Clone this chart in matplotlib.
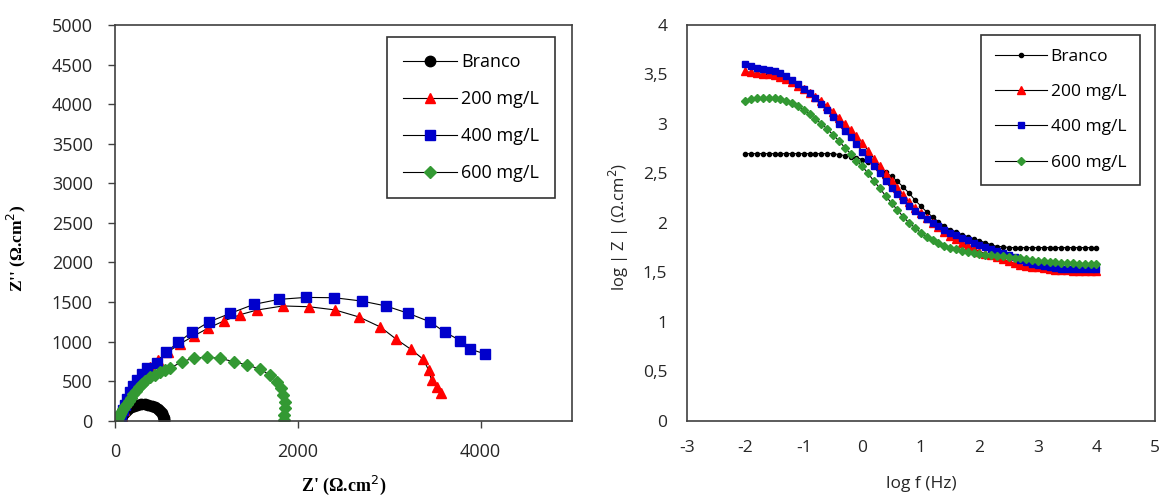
import matplotlib.pyplot as plt

plt.rcParams['font.family'] = ['Open Sans', 'DejaVu Sans']
plt.rcParams['axes.unicode_minus'] = False

# ---- Nyquist data (Z' , Z'') ----
branco_zr = [60, 68, 80, 95, 115, 140, 170, 205, 245, 285, 325, 365, 405, 440, 470, 495, 515, 528, 536, 540, 540]
branco_zi = [0, 30, 62, 95, 125, 152, 175, 192, 203, 208, 207, 200, 187, 168, 146, 120, 92, 64, 38, 15, 0]

c200_zr = [60, 75, 95, 120, 150, 190, 240, 300, 380, 470, 580, 710, 860, 1020, 1190, 1370, 1553, 1837,
           2122, 2406, 2671, 2902, 3077, 3240, 3374, 3431, 3463, 3524, 3565]
c200_zi = [0, 60, 140, 230, 320, 410, 500, 590, 680, 770, 870, 970, 1070, 1170, 1260, 1340, 1398, 1450,
           1440, 1400, 1310, 1185, 1030, 900, 775, 640, 515, 430, 345]

c400_zr = [60, 70, 85, 105, 130, 160, 195, 240, 290, 350, 455, 557, 691, 837, 1033, 1260, 1520, 1793,
           2089, 2398, 2699, 2967, 3211, 3443, 3614, 3780, 3882, 4053]
c400_zi = [0, 60, 130, 200, 280, 360, 440, 520, 590, 660, 733, 863, 990, 1116, 1251, 1356, 1470, 1533,
           1558, 1554, 1512, 1449, 1356, 1251, 1116, 1011, 906, 842]

c600_zr = [20, 30, 42, 55, 70, 90, 110, 128, 150, 175, 201, 230, 260, 293, 330, 385, 440, 495, 550, 604,
           733, 861, 1007, 1147, 1300, 1447, 1585, 1695, 1768, 1817, 1841, 1858, 1860, 1852, 1845]
c600_zi = [0, 30, 60, 84, 115, 150, 185, 211, 245, 285, 337, 380, 420, 463, 505, 547, 580, 610, 640, 665,
           745, 792, 800, 790, 745, 703, 653, 577, 493, 409, 324, 240, 156, 72, 15]

# ---- Bode data (log f, log|Z|) ----
logf = [-2.0, -1.9, -1.8, -1.7, -1.6, -1.5, -1.4, -1.3, -1.2, -1.1, -1.0, -0.9, -0.8, -0.7, -0.6, -0.5,
        -0.4, -0.3, -0.2, -0.1, 0.0, 0.1, 0.2, 0.3, 0.4, 0.5, 0.6, 0.7, 0.8, 0.9, 1.0, 1.1, 1.2, 1.3,
        1.4, 1.5, 1.6, 1.7, 1.8, 1.9, 2.0, 2.1, 2.2, 2.3, 2.4, 2.5, 2.6, 2.7, 2.8, 2.9, 3.0, 3.1, 3.2,
        3.3, 3.4, 3.5, 3.6, 3.7, 3.8, 3.9, 4.0]
branco_logz = [2.70, 2.70, 2.70, 2.70, 2.70, 2.70, 2.70, 2.70, 2.70, 2.70, 2.70, 2.70, 2.70, 2.70, 2.70, 2.70,
               2.69, 2.68, 2.67, 2.66, 2.64, 2.62, 2.59, 2.55, 2.51, 2.47, 2.42, 2.36, 2.30, 2.23, 2.17,
               2.11, 2.06, 2.01, 1.97, 1.93, 1.91, 1.88, 1.86, 1.84, 1.82, 1.80, 1.78, 1.76, 1.76, 1.75,
               1.75, 1.75, 1.75, 1.75, 1.75, 1.75, 1.75, 1.75, 1.75, 1.75, 1.75, 1.75, 1.75, 1.75, 1.75]
c200_logz = [3.53, 3.52, 3.51, 3.50, 3.50, 3.49, 3.47, 3.45, 3.42, 3.38, 3.35, 3.31, 3.27, 3.23, 3.18, 3.12,
             3.06, 3.00, 2.94, 2.88, 2.81, 2.73, 2.65, 2.57, 2.49, 2.42, 2.35, 2.28, 2.21, 2.15, 2.10,
             2.05, 2.00, 1.96, 1.91, 1.87, 1.84, 1.80, 1.77, 1.74, 1.71, 1.69, 1.67, 1.65, 1.63, 1.61,
             1.59, 1.57, 1.56, 1.55, 1.55, 1.54, 1.53, 1.52, 1.52, 1.52, 1.51, 1.51, 1.51, 1.51, 1.51]
c400_logz = [3.61, 3.59, 3.57, 3.56, 3.55, 3.53, 3.51, 3.48, 3.44, 3.40, 3.35, 3.31, 3.26, 3.20, 3.14, 3.07,
             3.00, 2.93, 2.87, 2.80, 2.72, 2.65, 2.57, 2.50, 2.42, 2.35, 2.29, 2.23, 2.17, 2.12, 2.08,
             2.04, 2.00, 1.97, 1.93, 1.90, 1.88, 1.85, 1.83, 1.80, 1.78, 1.76, 1.74, 1.72, 1.70, 1.67,
             1.65, 1.62, 1.60, 1.58, 1.57, 1.56, 1.55, 1.54, 1.53, 1.53, 1.53, 1.53, 1.53, 1.53, 1.53]
c600_logz = [3.23, 3.25, 3.26, 3.26, 3.26, 3.26, 3.25, 3.23, 3.21, 3.18, 3.14, 3.10, 3.05, 3.00, 2.95, 2.89,
             2.83, 2.76, 2.70, 2.63, 2.57, 2.50, 2.42, 2.35, 2.27, 2.20, 2.13, 2.06, 2.00, 1.95, 1.90,
             1.86, 1.83, 1.80, 1.77, 1.75, 1.74, 1.72, 1.71, 1.70, 1.69, 1.68, 1.67, 1.66, 1.66, 1.65,
             1.64, 1.64, 1.63, 1.62, 1.61, 1.61, 1.60, 1.60, 1.59, 1.59, 1.59, 1.58, 1.58, 1.58, 1.58]

labels = ['Branco', '200 mg/L', '400 mg/L', '600 mg/L']
nyq_xticks = [0, 2000, 4000]
nyq_yticks = [0, 500, 1000, 1500, 2000, 2500, 3000, 3500, 4000, 4500, 5000]
bode_xticks = [-3, -2, -1, 0, 1, 2, 3, 4, 5]
bode_yticks = [0, 0.5, 1, 1.5, 2, 2.5, 3, 3.5, 4]
bode_yticklabels = ['0', '0,5', '1', '1,5', '2', '2,5', '3', '3,5', '4']

colors = ['black', '#ff0000', '#0000cc', '#339933']
spine_c = '#404040'
text_c = '#262626'

W, H = 1161, 495
fig = plt.figure(figsize=(W / 100, H / 100), dpi=100)
ax1 = fig.add_axes([115 / W, 1 - 420.7 / H, 457 / W, 395.7 / H])
ax2 = fig.add_axes([686.7 / W, 1 - 420.7 / H, 468.3 / W, 395.7 / H])

# Nyquist
nyq = [(branco_zr, branco_zi, 'o', 7.5), (c200_zr, c200_zi, '^', 6.5),
       (c400_zr, c400_zi, 's', 7.5), (c600_zr, c600_zi, 'D', 6)]
for (x, y, m, ms), c, lab in zip(nyq, colors, labels):
    ax1.plot(x, y, color='black', lw=0.8, marker=m, ms=ms, mfc=c, mec=c, label=lab)
ax1.set_xlim(0, 5000)
ax1.set_ylim(0, 5000)
ax1.set_xticks(nyq_xticks)
ax1.set_yticks(nyq_yticks)
ax1.tick_params(direction='out', length=5, width=1, color=spine_c, pad=11,
                labelsize=13, labelcolor=text_c)
ax1.set_xlabel("Z' (\u03a9.cm$^2$)", family='Liberation Serif', fontweight='bold', fontsize=13)
ax1.set_ylabel("Z'' (\u03a9.cm$^2$)", family='Liberation Serif', fontweight='bold', fontsize=12.5)
ax1.xaxis.set_label_coords(0.5, -0.135)
ax1.yaxis.set_label_coords(-0.19, 0.436)
leg1 = ax1.legend(loc='upper right', bbox_to_anchor=(0.963, 0.970), fontsize=13, frameon=True,
                  fancybox=False, edgecolor='black', labelspacing=1.05, handlelength=3.0,
                  handletextpad=0.2, borderpad=0.9, borderaxespad=0)
leg1.get_frame().set_linewidth(1.2)

# Bode
bode = [(branco_logz, 'o', 3), (c200_logz, '^', 5.5), (c400_logz, 's', 4.5), (c600_logz, 'D', 4)]
for (y, m, ms), c, lab in zip(bode, colors, labels):
    ax2.plot(logf, y, color='black', lw=0.8, marker=m, ms=ms, mfc=c, mec=c, label=lab)
ax2.set_xlim(-3, 5)
ax2.set_ylim(0, 4)
ax2.set_xticks(bode_xticks)
ax2.set_yticks(bode_yticks)
ax2.set_yticklabels(bode_yticklabels)
ax2.tick_params(length=0, pad=14, labelsize=12.5, labelcolor=text_c)
ax2.set_xlabel('log f (Hz)', fontsize=12.5, color=text_c)
ax2.set_ylabel('log | Z | (\u03a9.cm$^2$)', fontsize=12, color=text_c)
ax2.xaxis.set_label_coords(0.5, -0.14)
ax2.yaxis.set_label_coords(-0.12, 0.49)
leg2 = ax2.legend(loc='upper right', bbox_to_anchor=(0.968, 0.975), fontsize=12.5, frameon=True,
                  fancybox=False, edgecolor='black', labelspacing=1.1, handlelength=3.0,
                  handletextpad=0.2, borderpad=0.8, borderaxespad=0)
leg2.get_frame().set_linewidth(1.2)

for ax in (ax1, ax2):
    for s in ax.spines.values():
        s.set_color(spine_c)
        s.set_linewidth(1.2)

fig.savefig('out.png', dpi=100)
